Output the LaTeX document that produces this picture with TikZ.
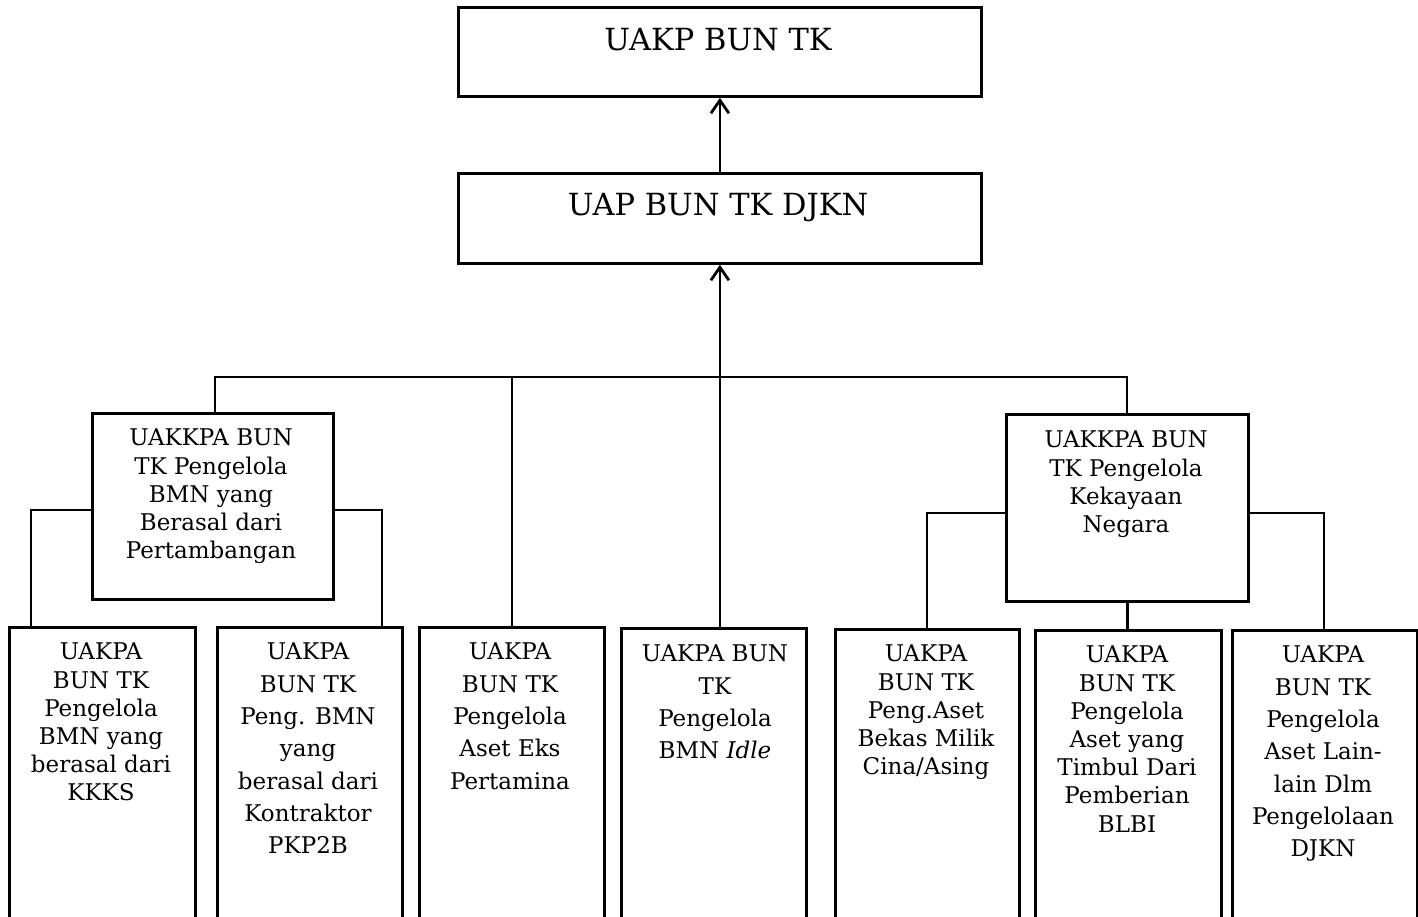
\documentclass[tikz,border=0pt]{standalone}
\usepackage{fontspec}
\setmainfont{DejaVu Serif}
\usetikzlibrary{arrows.meta,calc}
\begin{document}
\begin{tikzpicture}[x=1pt,y=-1pt,
  box/.style={draw, line width=2.8pt, inner sep=0pt, anchor=north west},
  lbl/.style={align=center, anchor=north, inner sep=0pt, font=\fontsize{23}{28.2}\selectfont},
  lblwide/.style={lbl, font=\fontsize{23}{32.3}\selectfont},
  head/.style={anchor=base, inner sep=0pt, font=\fontsize{30.5}{36}\selectfont},
  link/.style={line width=2.8pt},
  arr/.style={line width=2.8pt, -{Straight Barb[length=13pt,width=18pt,line width=2.8pt]}}]
\useasboundingbox (0,0) rectangle (1418,917);
\clip (0,0) rectangle (1418,917);

% upper levels
\node[box, minimum width=523pt, minimum height=89pt] (uakp) at (457,6) {};
\node[head] (uakpT) at (718,51) {UAKP BUN TK};
\node[box, minimum width=523pt, minimum height=90pt] (uap) at (457,172) {};
\node[head] (uapT) at (718,216) {UAP BUN TK DJKN};

% coordinator units
\node[box, minimum width=241pt, minimum height=186pt] (kpa) at (91,412) {};
\node[lbl] (kpaT) at (211,429) {UAKKPA BUN\\TK Pengelola\\BMN yang\\Berasal dari\\Pertambangan};
\node[box, minimum width=242pt, minimum height=187pt] (kpb) at (1005,413) {};
\node[lbl] (kpbT) at (1126,431) {UAKKPA BUN\\TK Pengelola\\Kekayaan\\Negara};

% reporting units
\node[box, minimum width=186pt, minimum height=320pt] (b1) at (8,626) {};
\node[lbl] (b1T) at (101,643) {UAKPA\\BUN TK\\Pengelola\\BMN yang\\berasal dari\\KKKS};
\node[box, minimum width=185pt, minimum height=320pt] (b2) at (216,626) {};
\node[lblwide] (b2T) at (308,643) {UAKPA\\BUN TK\\Peng. BMN\\yang\\berasal dari\\Kontraktor\\PKP2B};
\node[box, minimum width=185pt, minimum height=320pt] (b3) at (418,626) {};
\node[lblwide] (b3T) at (510,643) {UAKPA\\BUN TK\\Pengelola\\Aset Eks\\Pertamina};
\node[box, minimum width=185pt, minimum height=320pt] (b4) at (620,627) {};
\node[lblwide] (b4T) at (715,645) {UAKPA BUN\\TK\\Pengelola\\BMN \textit{Idle}};
\node[box, minimum width=184pt, minimum height=320pt] (b5) at (834,628) {};
\node[lbl] (b5T) at (926,645) {UAKPA\\BUN TK\\Peng.Aset\\Bekas Milik\\Cina/Asing};
\node[box, minimum width=186pt, minimum height=320pt] (b6) at (1034,629) {};
\node[lbl] (b6T) at (1127,646) {UAKPA\\BUN TK\\Pengelola\\Aset yang\\Timbul Dari\\Pemberian\\BLBI};
\node[box, minimum width=185pt, minimum height=320pt] (b7) at (1231,629) {};
\node[lblwide] (b7T) at (1323,646) {UAKPA\\BUN TK\\Pengelola\\Aset Lain-\\lain Dlm\\Pengelolaan\\DJKN};

% bus joining the units below the DJKN level
\coordinate (busL) at (215,377);
\coordinate (busR) at (1127,377);
\draw[link] (kpa.north -| busL) -- (busL) -- (busR) -- (kpb.north -| busR);
\draw[link] (b3.north) -- (b3.north |- busL);

% arrows upward
\draw[arr] (uap.north) -- (uakp.south);
\draw[arr] (uap.south |- b4.north) -- (uap.south);

% branches of the mining coordinator
\coordinate (aL) at (31,510);
\coordinate (aR) at (382,510);
\draw[link] (kpa.west |- aL) -- (aL) -- (aL |- b1.north);
\draw[link] (kpa.east |- aR) -- (aR) -- (aR |- b2.north);

% branches of the state-wealth coordinator
\coordinate (bL) at (927,513);
\coordinate (bR) at (1324,513);
\draw[link] (kpb.west |- bL) -- (bL) -- (bL |- b5.north);
\draw[link] (kpb.east |- bR) -- (bR) -- (bR |- b7.north);
\draw[link] (kpb.south) -- (kpb.south |- b6.north);
\end{tikzpicture}
\end{document}
